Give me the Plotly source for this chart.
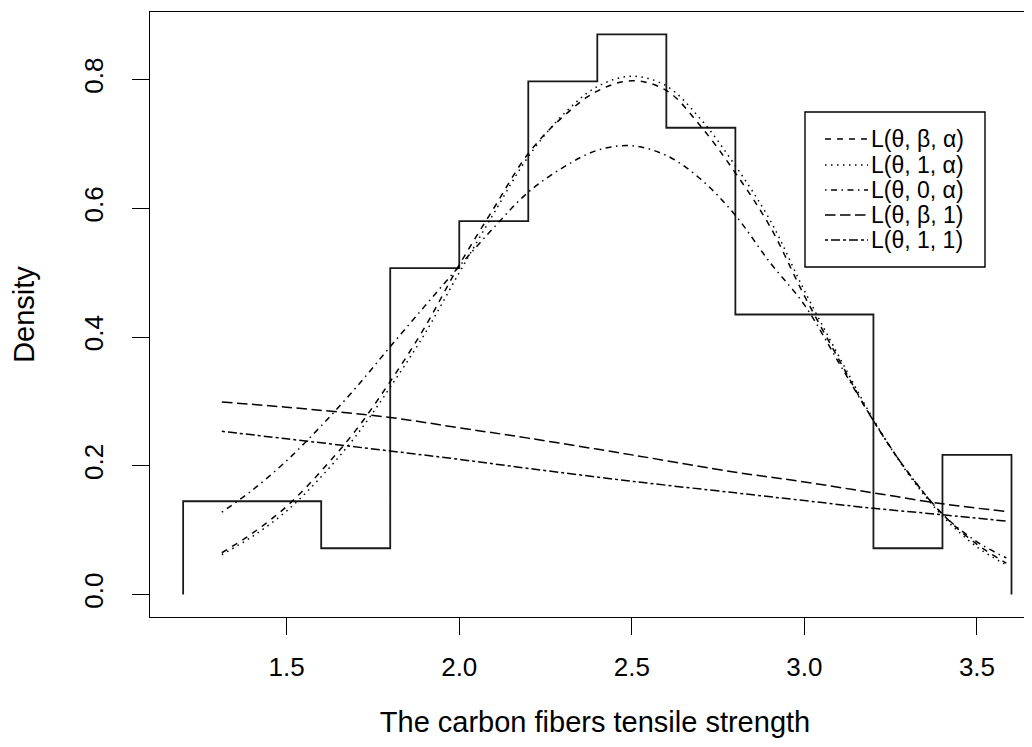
import plotly.graph_objects as go

# Histogram (density scale)
bin_edges = [1.2, 1.4, 1.6, 1.8, 2.0, 2.2, 2.4, 2.6, 2.8, 3.0, 3.2, 3.4, 3.6]
bin_density = [0.145, 0.145, 0.072, 0.507, 0.580, 0.797, 0.870, 0.725, 0.435, 0.435, 0.072, 0.217]

# Fitted density curves
x_bell = [1.312, 1.4, 1.5, 1.6, 1.7, 1.8, 1.9, 2.0, 2.1, 2.2, 2.3, 2.4, 2.5,
          2.6, 2.7, 2.8, 2.9, 3.0, 3.1, 3.2, 3.3, 3.4, 3.5, 3.585]
L_theta_beta_alpha = [0.065, 0.095, 0.137, 0.192, 0.255, 0.331, 0.415, 0.512, 0.600, 0.685,
                      0.742, 0.782, 0.798, 0.783, 0.727, 0.655, 0.572, 0.464, 0.365, 0.270,
                      0.190, 0.125, 0.078, 0.049]
L_theta_1_alpha = [0.062, 0.090, 0.130, 0.183, 0.246, 0.322, 0.405, 0.500, 0.592, 0.680,
                   0.745, 0.789, 0.805, 0.790, 0.738, 0.666, 0.582, 0.472, 0.370, 0.272,
                   0.188, 0.122, 0.074, 0.046]
L_theta_0_alpha = [0.128, 0.162, 0.208, 0.262, 0.321, 0.385, 0.448, 0.510, 0.570, 0.625,
                   0.663, 0.690, 0.697, 0.682, 0.645, 0.589, 0.516, 0.450, 0.360, 0.270,
                   0.190, 0.125, 0.082, 0.057]

x_flat = [1.312, 1.5, 1.8, 2.0, 2.2, 2.5, 2.8, 3.0, 3.2, 3.4, 3.585]
L_theta_beta_1 = [0.299, 0.291, 0.275, 0.259, 0.243, 0.217, 0.190, 0.175, 0.158, 0.141, 0.129]
L_theta_1_1 = [0.2535, 0.242, 0.223, 0.210, 0.196, 0.176, 0.158, 0.146, 0.134, 0.124, 0.114]

series_names = ["L(θ, β, α)", "L(θ, 1, α)", "L(θ, 0, α)", "L(θ, β, 1)", "L(θ, 1, 1)"]

x_ticks = [1.5, 2.0, 2.5, 3.0, 3.5]
x_tick_labels = ["1.5", "2.0", "2.5", "3.0", "3.5"]
y_ticks = [0.0, 0.2, 0.4, 0.6, 0.8]
y_tick_labels = ["0.0", "0.2", "0.4", "0.6", "0.8"]

# Step outline of the histogram built from edges and densities
hx, hy = [bin_edges[0]], [0.0]
for i, d in enumerate(bin_density):
    hx += [bin_edges[i], bin_edges[i + 1]]
    hy += [d, d]
hx.append(bin_edges[-1])
hy.append(0.0)

FONT = "Liberation Sans, Arial, sans-serif"
W, H = 1032, 747
OFF = 8  # page body margin
ML, MR, MT, MB = 142, 0, 4, 138
PW, PH = W - ML - MR, H - MT - MB


def px2paper_x(px):
    return (px - OFF - ML) / PW


def px2paper_y(py):
    return (H - MB - (py - OFF)) / PH


fig = go.Figure()
fig.add_trace(go.Scatter(x=hx, y=hy, mode="lines", line=dict(color="#1a1a1a", width=1.8),
                         showlegend=False, hoverinfo="skip", name="histogram"))

dashes = ["6px,6px", "1.5px,4.5px", "1.5px,4.5px,6px,4.5px", "10.5px,4.5px", "3px,3px,9px,3px"]
curve_x = [x_bell, x_bell, x_bell, x_flat, x_flat]
curve_y = [L_theta_beta_alpha, L_theta_1_alpha, L_theta_0_alpha, L_theta_beta_1, L_theta_1_1]
for name, xs, ys, dash in zip(series_names, curve_x, curve_y, dashes):
    fig.add_trace(go.Scatter(x=xs, y=ys, mode="lines", name=name, showlegend=False,
                             line=dict(color="black", width=1.5, dash=dash, shape="spline",
                                       smoothing=1.0)))

# Legend drawn like R's legend(): framed box, line samples, labels
shapes = [dict(type="rect", xref="paper", yref="paper",
               x0=px2paper_x(805), x1=px2paper_x(985),
               y0=px2paper_y(267), y1=px2paper_y(112),
               line=dict(color="black", width=1.4), fillcolor="white", layer="above")]
annotations = []
row_y = [139, 165, 190, 215, 240]
for name, dash, ry in zip(series_names, dashes, row_y):
    shapes.append(dict(type="line", xref="paper", yref="paper",
                       x0=px2paper_x(825), x1=px2paper_x(868),
                       y0=px2paper_y(ry), y1=px2paper_y(ry),
                       line=dict(color="black", width=1.5, dash=dash), layer="above"))
    annotations.append(dict(xref="paper", yref="paper", x=px2paper_x(869), y=px2paper_y(ry),
                            xanchor="left", yanchor="middle", showarrow=False, text=name,
                            font=dict(size=23, family=FONT, color="black")))

fig.update_layout(
    width=W, height=H,
    margin=dict(l=ML, r=MR, t=MT, b=MB),
    paper_bgcolor="white", plot_bgcolor="white",
    font=dict(family=FONT, color="black"),
    showlegend=False,
    shapes=shapes, annotations=annotations,
    xaxis=dict(range=[1.104, 3.6826], showgrid=False, zeroline=False, automargin=False,
               showline=True, mirror=True, linecolor="black", linewidth=1.3,
               ticks="outside", ticklen=17, tickwidth=1.3, tickcolor="black",
               tickvals=x_ticks, ticktext=x_tick_labels,
               tickfont=dict(size=26, family=FONT), ticklabelstandoff=10,
               title=dict(text="The carbon fibers tensile strength",
                          font=dict(size=29, family=FONT), standoff=30)),
    yaxis=dict(range=[-0.0348, 0.9048], showgrid=False, zeroline=False, automargin=False,
               showline=True, mirror=False, linecolor="black", linewidth=1.3,
               ticks="outside", ticklen=17, tickwidth=1.3, tickcolor="black",
               tickvals=y_ticks, ticktext=y_tick_labels, tickangle=-90,
               tickfont=dict(size=26, family=FONT), ticklabelstandoff=18,
               title=dict(text="Density", font=dict(size=29, family=FONT), standoff=38)),
)

fig.write_html("out.html")
